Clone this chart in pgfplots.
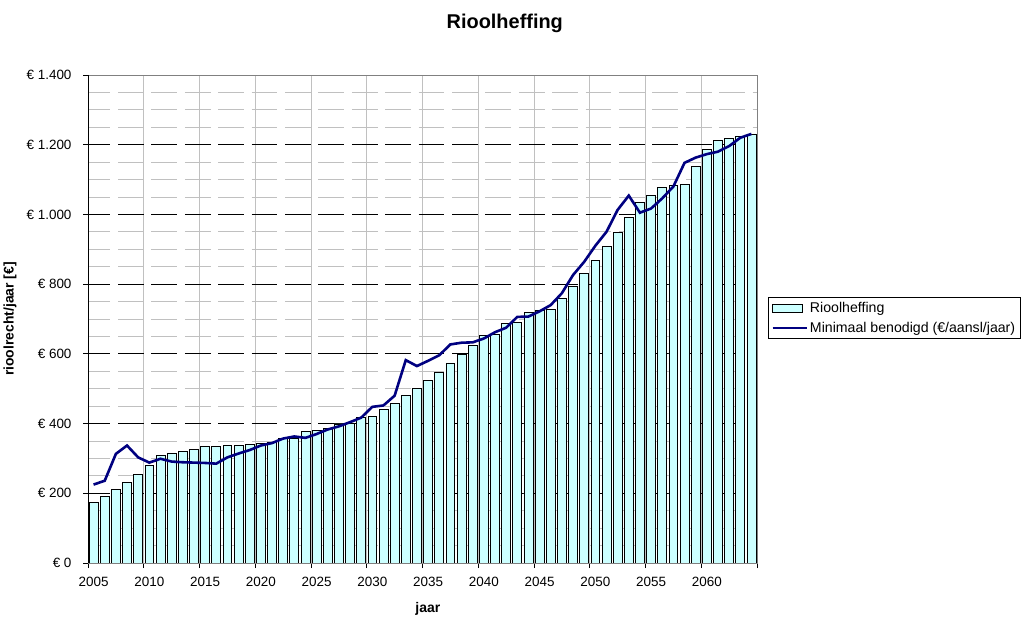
\documentclass[border=0pt]{standalone}
\usepackage{fontspec}
\setmainfont{Liberation Sans}
\usepackage{pgfplots}
\pgfplotsset{compat=1.18}
\definecolor{barfill}{HTML}{CCFFFF}
\definecolor{navyline}{HTML}{000080}
\definecolor{gridgray}{HTML}{C0C0C0}
\definecolor{bordergray}{HTML}{808080}
\pgfplotsset{
  barlegend/.style={legend image code/.code={\draw[##1] (0bp,-4bp) rectangle (30bp,4bp);}},
  linelegend/.style={legend image code/.code={\draw[##1] (0bp,0bp) -- (34bp,0bp);}},
}
\begin{document}
\begin{tikzpicture}
\path[use as bounding box] (0,0) rectangle (1030bp,623bp);
\begin{axis}[
  at={(88bp,60bp)}, anchor=south west,
  scale only axis, width=669bp, height=488bp,
  xmin=2004.5, xmax=2064.5, ymin=0, ymax=1400,
  xtick={2004.5,2009.5,...,2064.5}, xticklabels={},
  extra x ticks={2005,2010,...,2060},
  extra x tick labels={2005,2010,2015,2020,2025,2030,2035,2040,2045,2050,2055,2060},
  extra x tick style={major tick length=0pt, grid=none, xticklabel style={yshift=-11bp}},
  ytick={0,200,...,1400},
  yticklabels={€ 0,€ 200,€ 400,€ 600,€ 800,€ 1.000,€ 1.200,€ 1.400},
  yticklabel style={xshift=-8bp},
  minor y tick num=3,
  xmajorgrids, ymajorgrids, yminorgrids,
  major x grid style={gridgray, line width=0.8bp, solid},
  major y grid style={black, line width=0.8bp, dash pattern=on 25.7bp off 7.7bp, dash phase=3.4bp},
  minor y grid style={gridgray, line width=0.8bp, dash pattern=on 25.7bp off 7.7bp, dash phase=3.4bp},
  tick align=outside, major tick length=5bp, minor tick length=0pt,
  xtick pos=lower, ytick pos=left,
  tick style={black, line width=0.8bp},
  axis line style={bordergray, line width=0.8bp},
  tick label style={font=\fontsize{13.5}{15}\selectfont},
  title={Rioolheffing},
  title style={at={(0.623,1.084)}, anchor=south, yshift=-8bp, font=\bfseries\fontsize{20}{24}\selectfont},
  xlabel={jaar},
  xlabel style={at={(axis description cs:0.508,-0.094)}, anchor=center, font=\bfseries\fontsize{14}{16}\selectfont},
  ylabel={rioolrecht/jaar [€]},
  ylabel style={at={(axis description cs:-0.1166,0.5)}, anchor=center, font=\bfseries\fontsize{14}{16}\selectfont},
  legend style={at={(1.0164,0.545)}, anchor=north west, draw=black, line width=0.8bp,
    font=\fontsize{14.2}{16}\selectfont, inner xsep=3bp, inner ysep=3bp, row sep=4bp},
  legend cell align=left,
]
\addplot[ybar, bar width=0.8, fill=barfill, draw=black, line width=0.7bp, barlegend]
coordinates {
(2005,174) (2006,191) (2007,211) (2008,231) (2009,254) (2010,280) (2011,309) (2012,315) (2013,320) (2014,326)
(2015,335) (2016,335) (2017,338) (2018,338) (2019,340) (2020,344) (2021,346) (2022,359) (2023,359) (2024,377)
(2025,381) (2026,387) (2027,399) (2028,401) (2029,417) (2030,421) (2031,441) (2032,458) (2033,481) (2034,501)
(2035,524) (2036,547) (2037,574) (2038,599) (2039,624) (2040,653) (2041,657) (2042,688) (2043,690) (2044,719)
(2045,726) (2046,728) (2047,759) (2048,794) (2049,831) (2050,868) (2051,908) (2052,949) (2053,992) (2054,1035)
(2055,1055) (2056,1078) (2057,1083) (2058,1086) (2059,1138) (2060,1187) (2061,1213) (2062,1219) (2063,1225) (2064,1231)
};
\addlegendentry{Rioolheffing}
\addplot[navyline, line width=2.6bp, mark=none, sharp plot, linelegend]
coordinates {
(2005,225) (2006,236) (2007,313) (2008,337) (2009,303) (2010,288) (2011,299) (2012,291) (2013,289) (2014,288)
(2015,287) (2016,285) (2017,303) (2018,314) (2019,324) (2020,337) (2021,344) (2022,357) (2023,363) (2024,359)
(2025,370) (2026,383) (2027,392) (2028,404) (2029,417) (2030,448) (2031,452) (2032,480) (2033,582) (2034,565)
(2035,580) (2036,596) (2037,627) (2038,632) (2039,633) (2040,644) (2041,662) (2042,675) (2043,706) (2044,707)
(2045,722) (2046,740) (2047,774) (2048,826) (2049,864) (2050,910) (2051,950) (2052,1013) (2053,1054) (2054,1005)
(2055,1017) (2056,1046) (2057,1080) (2058,1148) (2059,1163) (2060,1173) (2061,1180) (2062,1196) (2063,1220) (2064,1231)
};
\addlegendentry{Minimaal benodigd (€/aansl/jaar)}
\draw[black, line width=0.8bp] (rel axis cs:0,1) -- (rel axis cs:0,0) -- (rel axis cs:1,0);
\end{axis}
\end{tikzpicture}
\end{document}
